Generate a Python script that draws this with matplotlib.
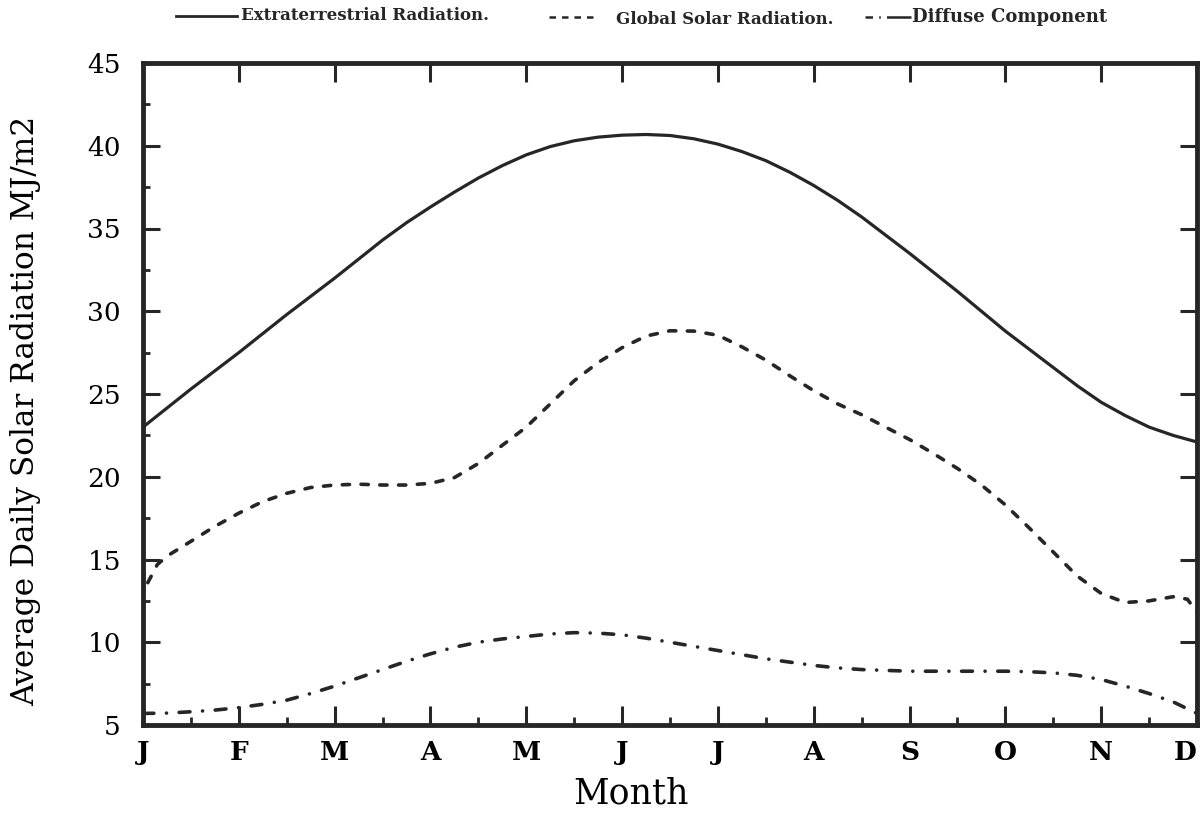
import matplotlib
matplotlib.use('Agg')
import matplotlib.pyplot as plt
from matplotlib.lines import Line2D
from matplotlib.ticker import MultipleLocator

# Данные (месяц 0 = январь ... 11 = декабрь)
month_labels = ['J', 'F', 'M', 'A', 'M', 'J', 'J', 'A', 'S', 'O', 'N', 'D']

extra_x = [0, 0.25, 0.5, 0.75, 1, 1.25, 1.5, 1.75, 2, 2.25, 2.5, 2.75,
           3, 3.25, 3.5, 3.75, 4, 4.25, 4.5, 4.75, 5, 5.25, 5.5, 5.75,
           6, 6.25, 6.5, 6.75, 7, 7.25, 7.5, 7.75, 8, 8.25, 8.5, 8.75,
           9, 9.25, 9.5, 9.75, 10, 10.25, 10.5, 10.75, 11]
extra_y = [23.0, 24.15, 25.3, 26.4, 27.5, 28.65, 29.8, 30.9, 32.0, 33.15, 34.3, 35.35,
           36.3, 37.2, 38.05, 38.8, 39.45, 39.95, 40.3, 40.52, 40.64, 40.68, 40.62, 40.42,
           40.1, 39.65, 39.1, 38.4, 37.6, 36.7, 35.7, 34.6, 33.5, 32.35, 31.2, 30.0,
           28.8, 27.7, 26.6, 25.5, 24.5, 23.7, 23.0, 22.5, 22.1]

global_x = [0.05, 0.15, 0.25, 0.5, 0.75, 1, 1.25, 1.5, 1.75, 2, 2.25, 2.5, 2.75,
            3, 3.25, 3.5, 3.75, 4, 4.25, 4.5, 4.75, 5, 5.25, 5.5, 5.75,
            6, 6.25, 6.5, 6.75, 7, 7.25, 7.5, 7.75, 8, 8.25, 8.5, 8.75,
            9, 9.25, 9.5, 9.75, 10, 10.25, 10.5, 10.75, 10.9, 11]
global_y = [13.6, 14.7, 15.2, 16.1, 17.0, 17.8, 18.5, 19.0, 19.35, 19.5, 19.55, 19.5, 19.5,
            19.6, 19.95, 20.8, 21.9, 23.0, 24.4, 25.8, 26.9, 27.8, 28.5, 28.82, 28.8,
            28.55, 27.85, 27.05, 26.1, 25.2, 24.4, 23.75, 23.0, 22.25, 21.4, 20.5, 19.5,
            18.3, 16.9, 15.45, 14.0, 12.95, 12.4, 12.5, 12.75, 12.6, 11.8]

diffuse_x = [0, 0.25, 0.5, 0.75, 1, 1.25, 1.5, 1.75, 2, 2.25, 2.5, 2.75,
             3, 3.25, 3.5, 3.75, 4, 4.25, 4.5, 4.75, 5, 5.25, 5.5, 5.75,
             6, 6.25, 6.5, 6.75, 7, 7.25, 7.5, 7.75, 8, 8.5,
             9, 9.25, 9.5, 9.75, 10, 10.25, 10.5, 10.75, 11]
diffuse_y = [5.7, 5.72, 5.8, 5.9, 6.05, 6.25, 6.5, 6.9, 7.35, 7.85, 8.35, 8.85,
             9.3, 9.7, 10.0, 10.2, 10.35, 10.5, 10.58, 10.55, 10.45, 10.25, 10.0, 9.75,
             9.5, 9.25, 9.0, 8.8, 8.6, 8.45, 8.35, 8.3, 8.25, 8.25,
             8.25, 8.22, 8.15, 8.0, 7.75, 7.35, 6.9, 6.4, 5.7]

ink = '#262626'
plt.rcParams['font.family'] = ['DejaVu Serif']

fig = plt.figure(figsize=(12.01, 8.16), dpi=100)
ax = fig.add_axes([143 / 1201, 1 - 725 / 816, 1054 / 1201, 662 / 816])

ax.plot(extra_x, extra_y, color=ink, lw=2.3, solid_joinstyle='round')
ax.plot(global_x, global_y, color=ink, lw=2.6, dashes=(2.0, 3.2), dash_capstyle='round')
ax.plot(diffuse_x, diffuse_y, color=ink, lw=2.6, dashes=(3.0, 3.5, 0.01, 3.5),
        dash_capstyle='round')

ax.set_xlim(0, 11)
ax.set_ylim(5, 45)

for s in ax.spines.values():
    s.set_linewidth(3.5)
    s.set_color(ink)

# оси: метки внутрь, как в оригинале
ax.set_xticks(range(12))
ax.set_xticklabels(month_labels, fontsize=19, fontweight='bold')
ax.get_xticklabels()[-1].set_horizontalalignment('right')
ax.xaxis.set_minor_locator(MultipleLocator(0.5))
ax.yaxis.set_major_locator(MultipleLocator(5))
ax.yaxis.set_minor_locator(MultipleLocator(2.5))
ax.tick_params(axis='x', which='major', direction='in', length=14, width=2.2,
               color=ink, pad=11, top=True)
ax.tick_params(axis='x', which='minor', direction='in', length=6, width=2.0,
               color=ink, top=False)
ax.tick_params(axis='y', which='major', direction='in', length=12, width=2.2,
               color=ink, pad=16, labelsize=19, right=True)
ax.tick_params(axis='y', which='minor', direction='in', length=5, width=2.0,
               color=ink, right=False)

ax.set_xlabel('Month', fontsize=25)
ax.xaxis.set_label_coords(0.463, -0.078)
ax.set_ylabel('Average Daily Solar Radiation MJ/m2', fontsize=22.5)
ax.yaxis.set_label_coords(-0.097, 0.475)

# легенда сверху, нарисована вручную
def fig_xy(px, py):
    return px / 1201, 1 - py / 816

def legend_line(x0, x1, y, **kw):
    (a, b), (c, d) = fig_xy(x0, y), fig_xy(x1, y)
    fig.add_artist(Line2D([a, c], [b, d], color=ink, **kw))

legend_font = dict(fontsize=12, fontweight='bold', va='center', ha='left', color=ink)

legend_line(176, 237, 16, lw=2.0)
fig.text(*fig_xy(241, 16), 'Extraterrestrial Radiation.', **legend_font)

legend_line(549, 598, 17, lw=1.8, dashes=(2.6, 2.4))
fig.text(*fig_xy(616, 20), 'Global Solar Radiation.', **legend_font)

legend_line(865, 911, 17, lw=1.8, dashes=(3.0, 2.5, 0.6, 2.5, 12, 1))
fig.text(*fig_xy(912, 17), 'Diffuse Component', fontsize=13, fontweight='bold',
         va='center', ha='left', color=ink)

fig.savefig('out.png', dpi=100, facecolor='white')
